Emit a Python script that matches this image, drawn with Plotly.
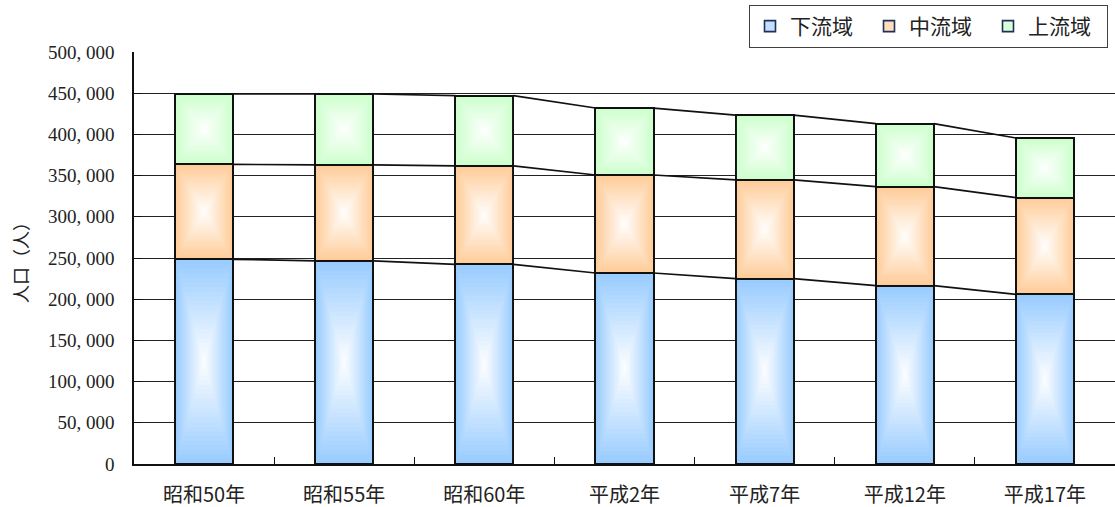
import plotly.graph_objects as go

# 国勢調査による流域別人口（人）
categories = ["昭和50年", "昭和55年", "昭和60年", "平成2年", "平成7年", "平成12年", "平成17年"]
series_names = ["下流域", "中流域", "上流域"]
lower = [248400, 246600, 242300, 231800, 224900, 216400, 205900]
middle = [115300, 116300, 119400, 118900, 119800, 120200, 117300]
upper = [85300, 86100, 85300, 81300, 78800, 76400, 72400]
y_ticks = [0, 50000, 100000, 150000, 200000, 250000, 300000, 350000, 400000, 450000, 500000]

edge_colors = [(153, 204, 255), (255, 204, 153), (204, 255, 204)]
legend_colors = ["#c2dfff", "#ffdcbb", "#d8ffd8"]

BAR_W = 0.414
LEVELS = 22
NUM_FONT = "'Liberation Serif', 'Noto Sans CJK JP', serif"
CJK_FONT = "'Noto Sans CJK JP', 'Liberation Serif', sans-serif"

series = [lower, middle, upper]
xs = list(range(len(categories)))

# cumulative bottoms / tops of each stacked segment
bottoms, tops = [], []
run = [0] * len(categories)
for vals in series:
    bottoms.append(run[:])
    run = [a + b for a, b in zip(run, vals)]
    tops.append(run[:])

fig = go.Figure()

# base bars (edge colour + dark outline)
for name, vals, col in zip(series_names, series, edge_colors):
    fig.add_trace(go.Bar(
        x=xs, y=vals, name=name, width=BAR_W, showlegend=False,
        marker=dict(color="rgb(%d,%d,%d)" % col, line=dict(color="#111111", width=2)),
        hoverinfo="skip",
    ))

# rectangular "from centre" gradient: nested rectangles fading to white
hw = BAR_W / 2
for s, col in enumerate(edge_colors):
    for k in range(1, LEVELS):
        f = 1 - k / LEVELS
        t = k / LEVELS
        c = tuple(round(ch + (255 - ch) * t) for ch in col)
        px, py = [], []
        for i in xs:
            y0, y1 = bottoms[s][i], tops[s][i]
            yc, hh = (y0 + y1) / 2, (y1 - y0) / 2
            xl, xr = i - hw * f, i + hw * f
            yb, yt = yc - hh * f, yc + hh * f
            px += [xl, xr, xr, xl, xl, None]
            py += [yb, yb, yt, yt, yb, None]
        fig.add_trace(go.Scatter(
            x=px, y=py, mode="none", fill="toself",
            fillcolor="rgb(%d,%d,%d)" % c, showlegend=False, hoverinfo="skip",
        ))

# connector lines between the tops of neighbouring segments
for s in range(len(series)):
    lx, ly = [], []
    for i in xs[:-1]:
        lx += [i + hw, i + 1 - hw, None]
        ly += [tops[s][i], tops[s][i + 1], None]
    fig.add_trace(go.Scatter(x=lx, y=ly, mode="lines", line=dict(color="#111111", width=1.7),
                             showlegend=False, hoverinfo="skip"))

# legend entries
for name, lc in zip(series_names, legend_colors):
    fig.add_trace(go.Scatter(
        x=[None], y=[None], mode="markers", name=name,
        marker=dict(symbol="square", size=11, color=lc, line=dict(color="#1f2f5a", width=1.6)),
    ))

fig.update_layout(
    width=1115, height=507,
    margin=dict(l=134, r=0, t=52, b=43, autoexpand=False),
    paper_bgcolor="white", plot_bgcolor="white",
    barmode="stack",
    showlegend=True,
    legend=dict(
        orientation="h", xref="container", yref="container",
        x=1108 / 1115, xanchor="right", y=1 - 5 / 507, yanchor="top",
        bordercolor="#404040", borderwidth=1, bgcolor="white",
        font=dict(family=CJK_FONT, size=21, color="#222"),
        traceorder="normal",
        entrywidth=74, entrywidthmode="pixels",
    ),
    xaxis=dict(
        range=[-0.5, len(categories) - 0.5],
        tickmode="array", tickvals=xs, ticktext=categories,
        ticks="", showgrid=False, zeroline=False,
        showline=True, linecolor="#111111", linewidth=1.5,
        tickfont=dict(family=CJK_FONT, size=20, color="#222"),
        ticklabelstandoff=12,
        minor=dict(tickmode="array", tickvals=[i + 0.5 for i in xs[:-1]],
                   ticks="inside", ticklen=7, tickcolor="#111111", tickwidth=1, showgrid=False),
    ),
    yaxis=dict(
        range=[0, 500000],
        tickmode="array", tickvals=y_ticks,
        ticktext=["{:,}".format(v).replace(",", ", ") for v in y_ticks],
        ticks="inside", ticklen=8, tickcolor="#111111", tickwidth=1,
        showgrid=True, gridcolor="#222222", gridwidth=1, zeroline=False,
        showline=True, linecolor="#111111", linewidth=1.5,
        tickfont=dict(family=NUM_FONT, size=19, color="#222"),
        ticklabelstandoff=14,
    ),
    annotations=[
        dict(text="人口（人）", textangle=-90, xref="paper", yref="paper",
             x=(20 - 134) / 981, xanchor="center", y=0.5, yanchor="middle", showarrow=False,
             font=dict(family=CJK_FONT, size=18, color="#222")),
        dict(text="出典：国勢調査", xref="paper", yref="paper", xanchor="left", yanchor="bottom",
             x=(14 - 134) / 981, y=(412 + 52 - 3) / 412, showarrow=False,
             font=dict(family=CJK_FONT, size=20, color="#222")),
    ],
)

fig.write_html("out.html")
